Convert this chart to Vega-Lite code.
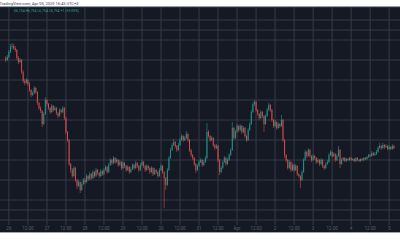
{
"$schema":"https://vega.github.io/schema/vega-lite/v6.json",
"width":400,"height":226,
"autosize":"none",
"padding":{"top":7,"left":0,"right":0,"bottom":17},
"background":"#ffffff",
"config":{"view":{"fill":"#151924","stroke":null},"font":"Roboto"},
"title":{"text":"TradingView.com, Apr 05, 2020 16:45 UTC+3","anchor":"start","fontSize":4,"fontWeight":"normal","color":"#3a3a3a","offset":1,"dx":0,"font":"Roboto"},
"layer":[
{
"data":{"values":[{"p":8130},{"p":8000},{"p":7900},{"p":7800},{"p":7600},{"p":7400},{"p":7200},{"p":7000},{"p":6800},{"p":6600},{"p":6400},{"p":6200},{"p":6100},{"p":6000}]},
"mark":{"type":"rule","color":"#363b48","strokeWidth":1},
"encoding":{
"y":{"field":"p","type":"quantitative","scale":{"domain":[5870,8130],"nice":false,"zero":false},"axis":null}
}
},
{
"data":{"format":{"parse":{"g":"utc:'%Y-%m-%d %H'"}},"values":[{"g":"2020-03-26 00","lab":"26"},{"g":"2020-03-26 12","lab":"12:00"},{"g":"2020-03-27 00","lab":"27"},{"g":"2020-03-27 12","lab":"12:00"},{"g":"2020-03-28 00","lab":"28"},{"g":"2020-03-28 12","lab":"12:00"},{"g":"2020-03-29 00","lab":"29"},{"g":"2020-03-29 12","lab":"12:00"},{"g":"2020-03-30 00","lab":"30"},{"g":"2020-03-30 12","lab":"12:00"},{"g":"2020-03-31 00","lab":"31"},{"g":"2020-03-31 12","lab":"12:00"},{"g":"2020-04-01 00","lab":"Apr"},{"g":"2020-04-01 12","lab":"12:00"},{"g":"2020-04-02 00","lab":"2"},{"g":"2020-04-02 12","lab":"12:00"},{"g":"2020-04-03 00","lab":"3"},{"g":"2020-04-03 12","lab":"12:00"},{"g":"2020-04-04 00","lab":"4"},{"g":"2020-04-04 12","lab":"12:00"},{"g":"2020-04-05 00","lab":"5"}]},
"encoding":{
"x":{"field":"g","type":"temporal","scale":{"type":"utc","domain":[1585171938462,1586058092308]},"axis":null}
},
"layer":[
{"mark":{"type":"rule","color":"#363b48","strokeWidth":1},
"encoding":{"y":{"datum":5950,"type":"quantitative","axis":null},"y2":{"datum":8130}}},
{"mark":{"type":"text","fontSize":4.5,"color":"#5b5f6a","align":"center","baseline":"middle"},
"encoding":{"y":{"datum":5910,"type":"quantitative","axis":null},"text":{"field":"lab"}}}
]
},
{
"data":{"values":[{"edge":"bottom"}]},
"mark":{"type":"rule","color":"#9ea1aa","strokeWidth":1},
"encoding":{"y":{"datum":5875,"type":"quantitative","axis":null}}
},
{
"data":{"format":{"parse":{"t":"utc:'%Y-%m-%d %H'"}},"values":[
{"t":"2020-03-25 22","o":7620,"h":7640,"l":7580,"c":7600},
{"t":"2020-03-25 23","o":7600,"h":7650,"l":7590,"c":7630},
{"t":"2020-03-26 00","o":7630,"h":7700,"l":7620,"c":7680},
{"t":"2020-03-26 01","o":7680,"h":7760,"l":7670,"c":7730},
{"t":"2020-03-26 02","o":7730,"h":7770,"l":7710,"c":7740},
{"t":"2020-03-26 03","o":7740,"h":7760,"l":7700,"c":7720},
{"t":"2020-03-26 04","o":7720,"h":7740,"l":7680,"c":7700},
{"t":"2020-03-26 05","o":7700,"h":7710,"l":7600,"c":7620},
{"t":"2020-03-26 06","o":7620,"h":7640,"l":7560,"c":7580},
{"t":"2020-03-26 07","o":7580,"h":7620,"l":7570,"c":7600},
{"t":"2020-03-26 08","o":7600,"h":7610,"l":7460,"c":7480},
{"t":"2020-03-26 09","o":7480,"h":7500,"l":7370,"c":7390},
{"t":"2020-03-26 10","o":7390,"h":7410,"l":7350,"c":7370},
{"t":"2020-03-26 11","o":7370,"h":7420,"l":7360,"c":7400},
{"t":"2020-03-26 12","o":7400,"h":7410,"l":7340,"c":7360},
{"t":"2020-03-26 13","o":7360,"h":7380,"l":7280,"c":7300},
{"t":"2020-03-26 14","o":7300,"h":7310,"l":7230,"c":7250},
{"t":"2020-03-26 15","o":7250,"h":7290,"l":7240,"c":7270},
{"t":"2020-03-26 16","o":7270,"h":7340,"l":7260,"c":7320},
{"t":"2020-03-26 17","o":7320,"h":7330,"l":7260,"c":7280},
{"t":"2020-03-26 18","o":7280,"h":7290,"l":7150,"c":7170},
{"t":"2020-03-26 19","o":7170,"h":7180,"l":7100,"c":7120},
{"t":"2020-03-26 20","o":7120,"h":7140,"l":7070,"c":7090},
{"t":"2020-03-26 21","o":7090,"h":7100,"l":6930,"c":6960},
{"t":"2020-03-26 22","o":6960,"h":7080,"l":6950,"c":7060},
{"t":"2020-03-26 23","o":7060,"h":7230,"l":7050,"c":7200},
{"t":"2020-03-27 00","o":7200,"h":7210,"l":7140,"c":7160},
{"t":"2020-03-27 01","o":7160,"h":7170,"l":7100,"c":7120},
{"t":"2020-03-27 02","o":7120,"h":7130,"l":7060,"c":7080},
{"t":"2020-03-27 03","o":7080,"h":7160,"l":7070,"c":7140},
{"t":"2020-03-27 04","o":7140,"h":7150,"l":7080,"c":7100},
{"t":"2020-03-27 05","o":7100,"h":7140,"l":7090,"c":7120},
{"t":"2020-03-27 06","o":7120,"h":7130,"l":7050,"c":7070},
{"t":"2020-03-27 07","o":7070,"h":7080,"l":7020,"c":7040},
{"t":"2020-03-27 08","o":7040,"h":7120,"l":7030,"c":7100},
{"t":"2020-03-27 09","o":7100,"h":7110,"l":7060,"c":7080},
{"t":"2020-03-27 10","o":7080,"h":7140,"l":7070,"c":7120},
{"t":"2020-03-27 11","o":7120,"h":7130,"l":7000,"c":7020},
{"t":"2020-03-27 12","o":7020,"h":7030,"l":6860,"c":6880},
{"t":"2020-03-27 13","o":6880,"h":6890,"l":6780,"c":6800},
{"t":"2020-03-27 14","o":6800,"h":6810,"l":6540,"c":6560},
{"t":"2020-03-27 15","o":6560,"h":6570,"l":6470,"c":6500},
{"t":"2020-03-27 16","o":6500,"h":6520,"l":6420,"c":6440},
{"t":"2020-03-27 17","o":6440,"h":6540,"l":6430,"c":6520},
{"t":"2020-03-27 18","o":6520,"h":6530,"l":6380,"c":6400},
{"t":"2020-03-27 19","o":6400,"h":6410,"l":6310,"c":6340},
{"t":"2020-03-27 20","o":6340,"h":6400,"l":6330,"c":6380},
{"t":"2020-03-27 21","o":6380,"h":6390,"l":6270,"c":6300},
{"t":"2020-03-27 22","o":6300,"h":6380,"l":6290,"c":6360},
{"t":"2020-03-27 23","o":6360,"h":6420,"l":6350,"c":6400},
{"t":"2020-03-28 00","o":6400,"h":6420,"l":6360,"c":6380},
{"t":"2020-03-28 01","o":6380,"h":6460,"l":6370,"c":6440},
{"t":"2020-03-28 02","o":6440,"h":6450,"l":6390,"c":6410},
{"t":"2020-03-28 03","o":6410,"h":6480,"l":6400,"c":6460},
{"t":"2020-03-28 04","o":6460,"h":6470,"l":6400,"c":6420},
{"t":"2020-03-28 05","o":6420,"h":6500,"l":6410,"c":6480},
{"t":"2020-03-28 06","o":6480,"h":6490,"l":6420,"c":6440},
{"t":"2020-03-28 07","o":6440,"h":6520,"l":6430,"c":6500},
{"t":"2020-03-28 08","o":6500,"h":6510,"l":6450,"c":6470},
{"t":"2020-03-28 09","o":6470,"h":6480,"l":6420,"c":6440},
{"t":"2020-03-28 10","o":6440,"h":6510,"l":6430,"c":6490},
{"t":"2020-03-28 11","o":6490,"h":6500,"l":6440,"c":6460},
{"t":"2020-03-28 12","o":6460,"h":6520,"l":6450,"c":6500},
{"t":"2020-03-28 13","o":6500,"h":6550,"l":6490,"c":6530},
{"t":"2020-03-28 14","o":6530,"h":6540,"l":6460,"c":6480},
{"t":"2020-03-28 15","o":6480,"h":6570,"l":6470,"c":6550},
{"t":"2020-03-28 16","o":6550,"h":6620,"l":6540,"c":6600},
{"t":"2020-03-28 17","o":6600,"h":6610,"l":6550,"c":6570},
{"t":"2020-03-28 18","o":6570,"h":6640,"l":6560,"c":6620},
{"t":"2020-03-28 19","o":6620,"h":6630,"l":6560,"c":6580},
{"t":"2020-03-28 20","o":6580,"h":6620,"l":6570,"c":6600},
{"t":"2020-03-28 21","o":6600,"h":6610,"l":6530,"c":6550},
{"t":"2020-03-28 22","o":6550,"h":6600,"l":6540,"c":6580},
{"t":"2020-03-28 23","o":6580,"h":6590,"l":6500,"c":6520},
{"t":"2020-03-29 00","o":6520,"h":6590,"l":6510,"c":6570},
{"t":"2020-03-29 01","o":6570,"h":6580,"l":6520,"c":6540},
{"t":"2020-03-29 02","o":6540,"h":6550,"l":6480,"c":6500},
{"t":"2020-03-29 03","o":6500,"h":6550,"l":6490,"c":6530},
{"t":"2020-03-29 04","o":6530,"h":6540,"l":6460,"c":6480},
{"t":"2020-03-29 05","o":6480,"h":6530,"l":6470,"c":6510},
{"t":"2020-03-29 06","o":6510,"h":6570,"l":6500,"c":6550},
{"t":"2020-03-29 07","o":6550,"h":6560,"l":6500,"c":6520},
{"t":"2020-03-29 08","o":6520,"h":6590,"l":6510,"c":6570},
{"t":"2020-03-29 09","o":6570,"h":6580,"l":6520,"c":6540},
{"t":"2020-03-29 10","o":6540,"h":6550,"l":6480,"c":6500},
{"t":"2020-03-29 11","o":6500,"h":6570,"l":6490,"c":6550},
{"t":"2020-03-29 12","o":6550,"h":6600,"l":6540,"c":6580},
{"t":"2020-03-29 13","o":6580,"h":6590,"l":6520,"c":6540},
{"t":"2020-03-29 14","o":6540,"h":6550,"l":6480,"c":6500},
{"t":"2020-03-29 15","o":6500,"h":6560,"l":6490,"c":6540},
{"t":"2020-03-29 16","o":6540,"h":6550,"l":6500,"c":6520},
{"t":"2020-03-29 17","o":6520,"h":6530,"l":6460,"c":6480},
{"t":"2020-03-29 18","o":6480,"h":6540,"l":6470,"c":6520},
{"t":"2020-03-29 19","o":6520,"h":6530,"l":6440,"c":6460},
{"t":"2020-03-29 20","o":6460,"h":6520,"l":6450,"c":6500},
{"t":"2020-03-29 21","o":6500,"h":6510,"l":6460,"c":6480},
{"t":"2020-03-29 22","o":6480,"h":6490,"l":6420,"c":6440},
{"t":"2020-03-29 23","o":6440,"h":6520,"l":6430,"c":6500},
{"t":"2020-03-30 00","o":6500,"h":6560,"l":6490,"c":6540},
{"t":"2020-03-30 01","o":6540,"h":6550,"l":6460,"c":6480},
{"t":"2020-03-30 02","o":6480,"h":6490,"l":6120,"c":6420},
{"t":"2020-03-30 03","o":6420,"h":6430,"l":6300,"c":6350},
{"t":"2020-03-30 04","o":6350,"h":6520,"l":6340,"c":6500},
{"t":"2020-03-30 05","o":6500,"h":6640,"l":6490,"c":6620},
{"t":"2020-03-30 06","o":6620,"h":6720,"l":6610,"c":6700},
{"t":"2020-03-30 07","o":6700,"h":6770,"l":6690,"c":6750},
{"t":"2020-03-30 08","o":6750,"h":6810,"l":6740,"c":6780},
{"t":"2020-03-30 09","o":6780,"h":6790,"l":6720,"c":6740},
{"t":"2020-03-30 10","o":6740,"h":6750,"l":6680,"c":6700},
{"t":"2020-03-30 11","o":6700,"h":6770,"l":6690,"c":6750},
{"t":"2020-03-30 12","o":6750,"h":6820,"l":6740,"c":6800},
{"t":"2020-03-30 13","o":6800,"h":6860,"l":6790,"c":6840},
{"t":"2020-03-30 14","o":6840,"h":6850,"l":6780,"c":6800},
{"t":"2020-03-30 15","o":6800,"h":6840,"l":6790,"c":6820},
{"t":"2020-03-30 16","o":6820,"h":6890,"l":6810,"c":6860},
{"t":"2020-03-30 17","o":6860,"h":6870,"l":6780,"c":6800},
{"t":"2020-03-30 18","o":6800,"h":6810,"l":6680,"c":6700},
{"t":"2020-03-30 19","o":6700,"h":6710,"l":6630,"c":6650},
{"t":"2020-03-30 20","o":6650,"h":6660,"l":6600,"c":6620},
{"t":"2020-03-30 21","o":6620,"h":6630,"l":6540,"c":6560},
{"t":"2020-03-30 22","o":6560,"h":6570,"l":6470,"c":6500},
{"t":"2020-03-30 23","o":6500,"h":6560,"l":6490,"c":6540},
{"t":"2020-03-31 00","o":6540,"h":6600,"l":6530,"c":6580},
{"t":"2020-03-31 01","o":6580,"h":6620,"l":6570,"c":6600},
{"t":"2020-03-31 02","o":6600,"h":6610,"l":6530,"c":6550},
{"t":"2020-03-31 03","o":6550,"h":6600,"l":6540,"c":6580},
{"t":"2020-03-31 04","o":6580,"h":6640,"l":6570,"c":6620},
{"t":"2020-03-31 05","o":6620,"h":6970,"l":6610,"c":6880},
{"t":"2020-03-31 06","o":6880,"h":6900,"l":6820,"c":6840},
{"t":"2020-03-31 07","o":6840,"h":6850,"l":6780,"c":6800},
{"t":"2020-03-31 08","o":6800,"h":6840,"l":6790,"c":6820},
{"t":"2020-03-31 09","o":6820,"h":6830,"l":6730,"c":6750},
{"t":"2020-03-31 10","o":6750,"h":6760,"l":6700,"c":6720},
{"t":"2020-03-31 11","o":6720,"h":6760,"l":6710,"c":6740},
{"t":"2020-03-31 12","o":6740,"h":6750,"l":6580,"c":6600},
{"t":"2020-03-31 13","o":6600,"h":6610,"l":6450,"c":6480},
{"t":"2020-03-31 14","o":6480,"h":6540,"l":6470,"c":6520},
{"t":"2020-03-31 15","o":6520,"h":6600,"l":6510,"c":6580},
{"t":"2020-03-31 16","o":6580,"h":6640,"l":6570,"c":6620},
{"t":"2020-03-31 17","o":6620,"h":6630,"l":6540,"c":6560},
{"t":"2020-03-31 18","o":6560,"h":6620,"l":6550,"c":6600},
{"t":"2020-03-31 19","o":6600,"h":6670,"l":6590,"c":6650},
{"t":"2020-03-31 20","o":6650,"h":6720,"l":6640,"c":6700},
{"t":"2020-03-31 21","o":6700,"h":6980,"l":6690,"c":6920},
{"t":"2020-03-31 22","o":6920,"h":6930,"l":6800,"c":6820},
{"t":"2020-03-31 23","o":6820,"h":6900,"l":6810,"c":6880},
{"t":"2020-04-01 00","o":6880,"h":6960,"l":6870,"c":6940},
{"t":"2020-04-01 01","o":6940,"h":6950,"l":6880,"c":6900},
{"t":"2020-04-01 02","o":6900,"h":6960,"l":6890,"c":6940},
{"t":"2020-04-01 03","o":6940,"h":6950,"l":6860,"c":6880},
{"t":"2020-04-01 04","o":6880,"h":6940,"l":6870,"c":6920},
{"t":"2020-04-01 05","o":6920,"h":6930,"l":6820,"c":6840},
{"t":"2020-04-01 06","o":6840,"h":6850,"l":6780,"c":6800},
{"t":"2020-04-01 07","o":6800,"h":6920,"l":6790,"c":6900},
{"t":"2020-04-01 08","o":6900,"h":6980,"l":6890,"c":6960},
{"t":"2020-04-01 09","o":6960,"h":7100,"l":6950,"c":7080},
{"t":"2020-04-01 10","o":7080,"h":7180,"l":7070,"c":7160},
{"t":"2020-04-01 11","o":7160,"h":7200,"l":7140,"c":7180},
{"t":"2020-04-01 12","o":7180,"h":7190,"l":7080,"c":7100},
{"t":"2020-04-01 13","o":7100,"h":7110,"l":7040,"c":7060},
{"t":"2020-04-01 14","o":7060,"h":7070,"l":7000,"c":7020},
{"t":"2020-04-01 15","o":7020,"h":7100,"l":7010,"c":7080},
{"t":"2020-04-01 16","o":7080,"h":7090,"l":7020,"c":7040},
{"t":"2020-04-01 17","o":7040,"h":7050,"l":6880,"c":6960},
{"t":"2020-04-01 18","o":6960,"h":7060,"l":6950,"c":7040},
{"t":"2020-04-01 19","o":7040,"h":7120,"l":7030,"c":7100},
{"t":"2020-04-01 20","o":7100,"h":7170,"l":7090,"c":7150},
{"t":"2020-04-01 21","o":7150,"h":7160,"l":7080,"c":7100},
{"t":"2020-04-01 22","o":7100,"h":7110,"l":6980,"c":7000},
{"t":"2020-04-01 23","o":7000,"h":7010,"l":6920,"c":6940},
{"t":"2020-04-02 00","o":6940,"h":7000,"l":6930,"c":6980},
{"t":"2020-04-02 01","o":6980,"h":6990,"l":6900,"c":6920},
{"t":"2020-04-02 02","o":6920,"h":6980,"l":6910,"c":6960},
{"t":"2020-04-02 03","o":6960,"h":6970,"l":6920,"c":6940},
{"t":"2020-04-02 04","o":6940,"h":7050,"l":6930,"c":7000},
{"t":"2020-04-02 05","o":7000,"h":7010,"l":6780,"c":6800},
{"t":"2020-04-02 06","o":6800,"h":6810,"l":6620,"c":6650},
{"t":"2020-04-02 07","o":6650,"h":6660,"l":6580,"c":6600},
{"t":"2020-04-02 08","o":6600,"h":6610,"l":6500,"c":6520},
{"t":"2020-04-02 09","o":6520,"h":6600,"l":6510,"c":6580},
{"t":"2020-04-02 10","o":6580,"h":6590,"l":6480,"c":6500},
{"t":"2020-04-02 11","o":6500,"h":6570,"l":6490,"c":6550},
{"t":"2020-04-02 12","o":6550,"h":6560,"l":6480,"c":6500},
{"t":"2020-04-02 13","o":6500,"h":6560,"l":6490,"c":6540},
{"t":"2020-04-02 14","o":6540,"h":6550,"l":6440,"c":6460},
{"t":"2020-04-02 15","o":6460,"h":6470,"l":6420,"c":6440},
{"t":"2020-04-02 16","o":6440,"h":6450,"l":6320,"c":6400},
{"t":"2020-04-02 17","o":6400,"h":6500,"l":6390,"c":6480},
{"t":"2020-04-02 18","o":6480,"h":6620,"l":6470,"c":6600},
{"t":"2020-04-02 19","o":6600,"h":6700,"l":6590,"c":6680},
{"t":"2020-04-02 20","o":6680,"h":6690,"l":6620,"c":6640},
{"t":"2020-04-02 21","o":6640,"h":6720,"l":6630,"c":6700},
{"t":"2020-04-02 22","o":6700,"h":6710,"l":6620,"c":6640},
{"t":"2020-04-02 23","o":6640,"h":6650,"l":6580,"c":6600},
{"t":"2020-04-03 00","o":6600,"h":6660,"l":6590,"c":6640},
{"t":"2020-04-03 01","o":6640,"h":6650,"l":6600,"c":6620},
{"t":"2020-04-03 02","o":6620,"h":6630,"l":6560,"c":6580},
{"t":"2020-04-03 03","o":6580,"h":6620,"l":6570,"c":6600},
{"t":"2020-04-03 04","o":6600,"h":6610,"l":6540,"c":6560},
{"t":"2020-04-03 05","o":6560,"h":6620,"l":6550,"c":6600},
{"t":"2020-04-03 06","o":6600,"h":6610,"l":6520,"c":6540},
{"t":"2020-04-03 07","o":6540,"h":6550,"l":6500,"c":6520},
{"t":"2020-04-03 08","o":6520,"h":6580,"l":6510,"c":6560},
{"t":"2020-04-03 09","o":6560,"h":6600,"l":6550,"c":6580},
{"t":"2020-04-03 10","o":6580,"h":6670,"l":6570,"c":6650},
{"t":"2020-04-03 11","o":6650,"h":6700,"l":6640,"c":6680},
{"t":"2020-04-03 12","o":6680,"h":6690,"l":6620,"c":6640},
{"t":"2020-04-03 13","o":6640,"h":6680,"l":6630,"c":6660},
{"t":"2020-04-03 14","o":6660,"h":6670,"l":6580,"c":6600},
{"t":"2020-04-03 15","o":6600,"h":6660,"l":6590,"c":6640},
{"t":"2020-04-03 16","o":6640,"h":6740,"l":6630,"c":6700},
{"t":"2020-04-03 17","o":6700,"h":6710,"l":6520,"c":6560},
{"t":"2020-04-03 18","o":6560,"h":6620,"l":6550,"c":6600},
{"t":"2020-04-03 19","o":6600,"h":6630,"l":6590,"c":6620},
{"t":"2020-04-03 20","o":6620,"h":6630,"l":6580,"c":6590},
{"t":"2020-04-03 21","o":6590,"h":6620,"l":6580,"c":6610},
{"t":"2020-04-03 22","o":6610,"h":6620,"l":6590,"c":6600},
{"t":"2020-04-03 23","o":6600,"h":6630,"l":6590,"c":6620},
{"t":"2020-04-04 00","o":6620,"h":6630,"l":6590,"c":6600},
{"t":"2020-04-04 01","o":6600,"h":6620,"l":6590,"c":6610},
{"t":"2020-04-04 02","o":6610,"h":6620,"l":6580,"c":6590},
{"t":"2020-04-04 03","o":6590,"h":6630,"l":6580,"c":6620},
{"t":"2020-04-04 04","o":6620,"h":6630,"l":6590,"c":6600},
{"t":"2020-04-04 05","o":6600,"h":6610,"l":6580,"c":6590},
{"t":"2020-04-04 06","o":6590,"h":6620,"l":6580,"c":6610},
{"t":"2020-04-04 07","o":6610,"h":6620,"l":6590,"c":6600},
{"t":"2020-04-04 08","o":6600,"h":6630,"l":6590,"c":6620},
{"t":"2020-04-04 09","o":6620,"h":6630,"l":6600,"c":6610},
{"t":"2020-04-04 10","o":6610,"h":6640,"l":6600,"c":6630},
{"t":"2020-04-04 11","o":6630,"h":6660,"l":6620,"c":6650},
{"t":"2020-04-04 12","o":6650,"h":6660,"l":6630,"c":6640},
{"t":"2020-04-04 13","o":6640,"h":6690,"l":6630,"c":6670},
{"t":"2020-04-04 14","o":6670,"h":6680,"l":6640,"c":6650},
{"t":"2020-04-04 15","o":6650,"h":6680,"l":6640,"c":6660},
{"t":"2020-04-04 16","o":6660,"h":6700,"l":6650,"c":6680},
{"t":"2020-04-04 17","o":6680,"h":6740,"l":6670,"c":6720},
{"t":"2020-04-04 18","o":6720,"h":6770,"l":6710,"c":6740},
{"t":"2020-04-04 19","o":6740,"h":6750,"l":6700,"c":6720},
{"t":"2020-04-04 20","o":6720,"h":6770,"l":6710,"c":6750},
{"t":"2020-04-04 21","o":6750,"h":6760,"l":6710,"c":6730},
{"t":"2020-04-04 22","o":6730,"h":6760,"l":6720,"c":6740},
{"t":"2020-04-04 23","o":6740,"h":6750,"l":6700,"c":6710},
{"t":"2020-04-05 00","o":6710,"h":6750,"l":6700,"c":6730},
{"t":"2020-04-05 01","o":6730,"h":6740,"l":6700,"c":6710},
{"t":"2020-04-05 02","o":6710,"h":6760,"l":6700,"c":6740},
{"t":"2020-04-05 03","o":6740,"h":6750,"l":6710,"c":6720}
]},
"encoding":{
"x":{"field":"t","type":"temporal","scale":{"type":"utc","domain":[1585171938462,1586058092308]},"axis":null},
"color":{"condition":{"test":"datum.c >= datum.o","value":"#26a69a"},"value":"#ef5350"},
"opacity":{"value":0.75}
},
"layer":[
{"mark":{"type":"rule","strokeWidth":0.7},
"encoding":{"y":{"field":"l","type":"quantitative","axis":null},"y2":{"field":"h"}}},
{"mark":{"type":"bar","size":1},
"encoding":{"y":{"field":"o","type":"quantitative","axis":null},"y2":{"field":"c"}}}
]
},
{
"data":{"values":[{"label":"O6,754 H6,754 L6,754 C6,754 +1 (+0.00%)"}]},
"mark":{"type":"text","align":"left","baseline":"middle","fontSize":3.5,"color":"#26a69a"},
"encoding":{
"x":{"datum":{"year":2020,"month":3,"date":26,"hours":3,"utc":true},"type":"temporal","axis":null},
"y":{"datum":8090,"type":"quantitative","axis":null},
"text":{"field":"label"}
}
}
]
}
